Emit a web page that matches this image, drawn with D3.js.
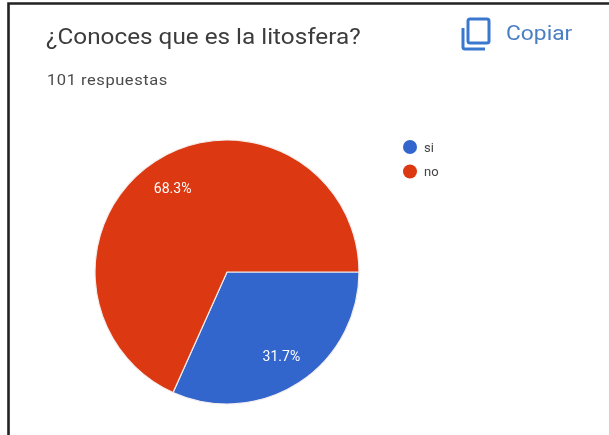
<!DOCTYPE html>
<html>
<head>
<meta charset="utf-8">
<script src="https://cdn.jsdelivr.net/npm/d3@7"></script>
<style>html,body{margin:0;padding:0;background:#fff;overflow:hidden}svg{display:block;filter:blur(0.5px)}text{font-family:Roboto,sans-serif}</style>
</head>
<body>
<svg id="c" width="609" height="435"></svg>
<script>
const categories = ["si", "no"];
const values = [31.7, 68.3];
const colors = ["#3366cc", "#dc3912"];
const title = "¿Conoces que es la litosfera?";
const subtitle = "101 respuestas";
const copyLabel = "Copiar";

const svg = d3.select("#c");
svg.append("path").attr("d", "M8.5 435V3.5H609").attr("fill", "none").attr("stroke", "#222").attr("stroke-width", 2.6);

svg.append("text").attr("transform", "translate(46,44) scale(1.08,1)").attr("font-size", 22.5).attr("fill", "#3c3c3c").text(title);
svg.append("text").attr("transform", "translate(47,85) scale(1.1,1)").attr("font-size", 15).attr("letter-spacing", 0.5).attr("fill", "#4a4a4a").text(subtitle);
svg.append("text").attr("transform", "translate(506,40) scale(1.14,1)").attr("font-size", 20).attr("fill", "#4a7fc4").text(copyLabel);

const icon = svg.append("g").attr("fill", "none").attr("stroke", "#3a78d0").attr("stroke-width", 3);
icon.append("rect").attr("x", 468).attr("y", 19).attr("width", 21).attr("height", 24).attr("rx", 2);
icon.append("path").attr("d", "M463 28V47Q463 49 465 49H485");

const pie = d3.pie().sort(null).startAngle(Math.PI / 2).endAngle(Math.PI * 2.5);
const arc = d3.arc().innerRadius(0).outerRadius(132);
const labelArc = d3.arc().innerRadius(100).outerRadius(100);
const g = svg.append("g").attr("transform", "translate(227,272)");
const arcs = pie(values);
g.selectAll("path").data(arcs).join("path")
  .attr("d", arc).attr("fill", (d, i) => colors[i]).attr("stroke", "#f4eeee").attr("stroke-width", 1.2);
g.selectAll("text").data(arcs).join("text")
  .attr("transform", d => `translate(${labelArc.centroid(d)})`)
  .attr("text-anchor", "middle").attr("dy", 5).attr("font-size", 14).attr("fill", "#fff")
  .text(d => d.data.toFixed(1) + "%");

const leg = svg.append("g").selectAll("g").data(categories).join("g")
  .attr("transform", (d, i) => `translate(410,${147 + i * 24.5})`);
leg.append("circle").attr("r", 7).attr("fill", (d, i) => colors[i]);
leg.append("text").attr("x", 14).attr("y", 4.5).attr("font-size", 13).attr("fill", "#444").text(d => d);
</script>
</body>
</html>
